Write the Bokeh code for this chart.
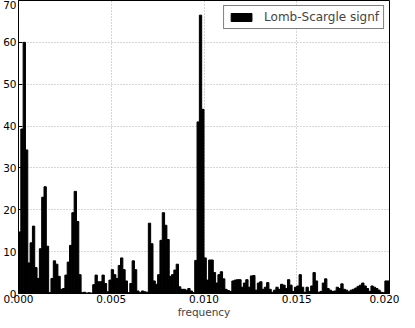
import numpy as np
from bokeh.plotting import figure
from bokeh.models import FixedTicker, PrintfTickFormatter, Range1d
from bokeh.embed import file_html
from bokeh.resources import INLINE

# frequency bins (left edges), bin width
bin_width = 0.000125
n_bins = 160
freq_left = np.arange(n_bins) * bin_width

# Lomb-Scargle power
power = [
    14.7, 39.3, 60.0, 34.3, 7.3, 12.1, 16.1, 6.2, 3.6, 10.7,
    23.0, 25.5, 11.3, 0.2, 3.6, 7.8, 7.0, 4.1, 1.0, 1.2,
    4.4, 7.5, 11.5, 19.3, 24.4, 17.2, 4.5, 0.2, 0.3, 0.1,
    0.2, 0.1, 2.1, 4.4, 2.8, 2.8, 4.4, 2.4, 0.4, 3.2,
    5.7, 4.5, 3.6, 6.7, 8.5, 5.7, 3.0, 0.2, 2.4, 7.8,
    5.7, 0.6, 0.2, 0.6, 0.4, 0.3, 16.8, 11.9, 3.0, 2.2,
    4.5, 12.7, 19.3, 16.3, 12.9, 4.1, 4.5, 5.6, 7.0, 1.6,
    1.0, 1.0, 0.8, 1.2, 0.6, 0.2, 7.9, 41.0, 66.5, 44.0,
    8.5, 3.2, 8.0, 8.0, 5.0, 2.5, 4.5, 5.2, 3.5, 1.0,
    0.7, 0.5, 3.0, 3.2, 3.3, 3.3, 1.5, 2.5, 3.3, 1.5,
    4.2, 4.3, 0.8, 2.5, 2.8, 1.0, 1.5, 2.6, 1.0, 0.3,
    0.8, 1.5, 1.0, 2.2, 2.0, 1.2, 3.3, 2.0, 0.5, 1.5,
    1.8, 4.5, 1.5, 0.3, 1.5, 0.5, 1.8, 5.0, 3.0, 0.3,
    0.5, 2.5, 3.5, 1.2, 0.8, 0.5, 0.6, 1.5, 1.2, 2.3,
    1.0, 0.8, 0.4, 0.8, 1.0, 1.3, 1.7, 2.0, 2.5, 1.8,
    1.2, 0.5, 1.8, 1.5, 1.2, 0.8, 0.3, 0.2, 3.0, 3.0,
]

x_ticks = [0.0, 0.005, 0.010, 0.015, 0.020]
y_ticks = [0, 10, 20, 30, 40, 50, 60, 70]
legend_text = "Lomb-Scargle signf"
x_label = "frequency"

FONT = "DejaVu Sans"

p = figure(width=399, height=320, output_backend="svg", toolbar_location=None,
           x_range=Range1d(0, 0.02), y_range=Range1d(0, 70),
           min_border_left=0, min_border_top=0, min_border_right=10,
           min_border_bottom=0)

centers = freq_left + bin_width / 2
p.vbar(x=centers, top=power, width=bin_width, fill_color="black",
       line_color="black", line_width=1, legend_label=legend_text)

p.outline_line_color = "black"
p.outline_line_width = 1
p.background_fill_color = "white"
p.border_fill_color = "white"

for ax in (p.xaxis[0], p.yaxis[0]):
    ax.major_tick_in = 4
    ax.major_tick_out = 0
    ax.minor_tick_line_color = None
    ax.major_tick_line_color = "black"
    ax.axis_line_color = "black"
    ax.major_label_text_font = FONT
    ax.major_label_text_font_size = "10.5px"
    ax.major_label_text_color = "black"
    ax.major_label_standoff = 2

p.xaxis[0].major_label_standoff = 1
p.xaxis[0].ticker = FixedTicker(ticks=x_ticks)
p.xaxis[0].formatter = PrintfTickFormatter(format="%.3f")
p.yaxis[0].ticker = FixedTicker(ticks=y_ticks)
p.xaxis[0].axis_label = x_label
p.xaxis[0].axis_label_text_font = FONT
p.xaxis[0].axis_label_text_font_size = "10.5px"
p.xaxis[0].axis_label_text_font_style = "normal"
p.xaxis[0].axis_label_standoff = 0

for g in (p.xgrid[0], p.ygrid[0]):
    g.grid_line_color = "#999999"
    g.grid_line_dash = "1 2"
    g.grid_line_width = 0.8
p.xgrid[0].ticker = FixedTicker(ticks=x_ticks)
p.ygrid[0].ticker = FixedTicker(ticks=y_ticks)

leg = p.legend[0]
leg.location = "top_right"
leg.margin = 5
leg.padding = 4
leg.spacing = 0
leg.label_text_font = FONT
leg.label_text_font_size = "12px"
leg.label_standoff = 10
leg.glyph_width = 26
leg.glyph_height = 10
leg.label_height = 12
leg.border_line_color = "black"
leg.border_line_width = 1
leg.background_fill_alpha = 1.0

open("out.html", "w").write(file_html(p, INLINE))
